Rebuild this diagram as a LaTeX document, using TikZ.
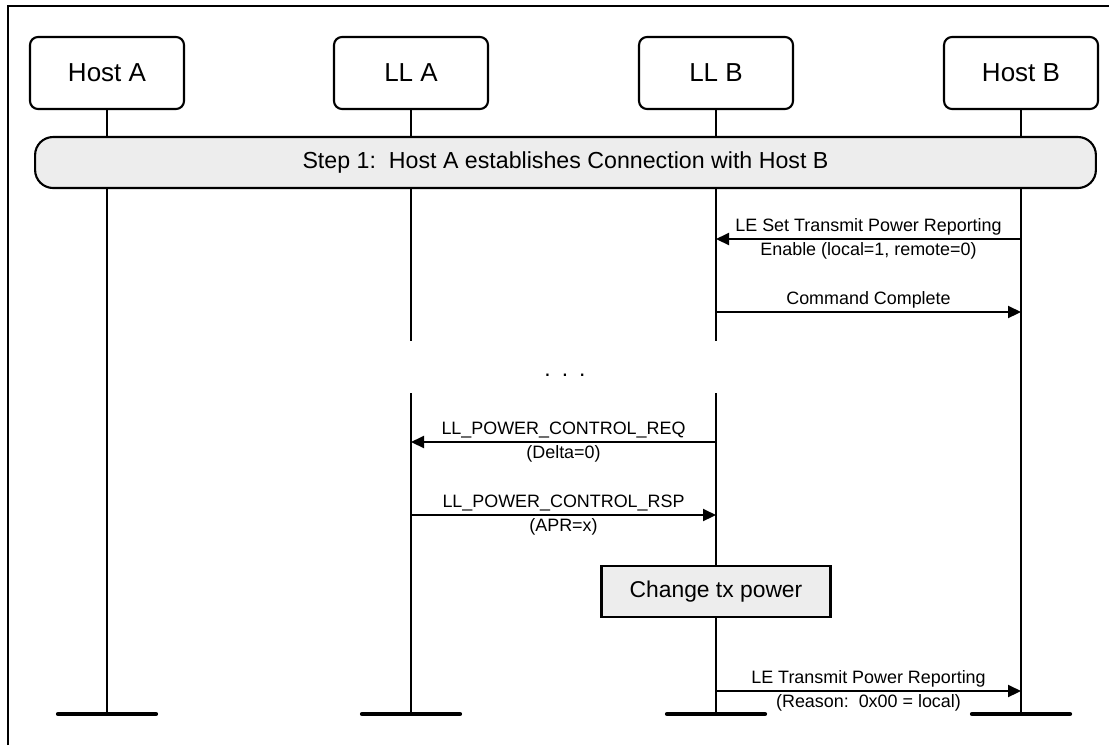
\documentclass[tikz,border=0pt]{standalone}
\usepackage{fontspec}
\setmainfont{Liberation Sans}
\usetikzlibrary{arrows.meta}

\begin{document}
\begin{tikzpicture}[
        x=0.02cm, y=-0.02cm,
        line width=1.2pt,
        font=\fontsize{10.2}{12}\selectfont,
        >={Triangle[length=2.6mm, width=2.4mm]},
        actor/.style={rectangle, draw, rounded corners=1.6mm, minimum width=3.08cm,
                      minimum height=1.44cm, font=\fontsize{14.8}{17}\selectfont},
        stepbar/.style={rectangle, draw, rounded corners=3.6mm, fill=black!7,
                      minimum width=21.22cm, minimum height=1.02cm,
                      font=\fontsize{13.2}{15}\selectfont},
        action/.style={rectangle, draw, fill=black!7, minimum width=4.58cm,
                      minimum height=1.02cm, font=\fontsize{13}{15}\selectfont},
        msg/.style={->},
        lbl/.style={inner sep=1.5pt},
        endbar/.style={line width=2.4pt, line cap=round},
    ]
        \useasboundingbox (0,0) rectangle (1109,745);
        \draw (8,745) |- (1109,6);
        \def\hax{107} \def\lax{411} \def\lbx{716} \def\hbx{1021}
        \def\bot{714}
        \foreach \x/\id/\name in {\hax/hosta/{Host A}, \lax/lla/{LL A},
                                  \lbx/llb/{LL B}, \hbx/hostb/{Host B}} {
            \node[actor] (\id) at (\x,73) {\name};
            \coordinate (\id-end) at (\x,\bot);
            \draw[endbar] ([xshift=-0.98cm]\id-end) -- ([xshift=0.98cm]\id-end);
        }
        % lifelines, the two link layers broken at the dots
        \coordinate (lla-cut) at (\lax,341); \coordinate (lla-go) at (\lax,393);
        \coordinate (llb-cut) at (\lbx,341); \coordinate (llb-go) at (\lbx,393);
        \draw (hosta) -- (hosta-end);
        \draw (hostb) -- (hostb-end);
        \draw (lla) -- (lla-cut) (lla-go) -- (lla-end);
        \draw (llb) -- (llb-cut) (llb-go) -- (llb-end);

        \node[stepbar] (step1) at (565.5,162.5) {Step 1:\ \ Host A establishes Connection with Host B};
        \node[font=\fontsize{13}{15}\selectfont, anchor=base] (dots) at (565,376)
            {.\hskip2.2mm.\hskip2.2mm.};
        \node[action] (txpow) at (\lbx,591.5) {Change tx power};

        \draw[msg] (hostb |- 0,239) -- node[above, lbl]{LE Set Transmit Power Reporting}
            node[below, lbl]{Enable (local=1, remote=0)} (llb |- 0,239);
        \draw[msg] (llb |- 0,312) -- node[above, lbl]{Command Complete} (hostb |- 0,312);
        \draw[msg] (llb |- 0,442) -- node[above, lbl]{LL\_POWER\_CONTROL\_REQ}
            node[below, lbl]{(Delta=0)} (lla |- 0,442);
        \draw[msg] (lla |- 0,515) -- node[above, lbl]{LL\_POWER\_CONTROL\_RSP}
            node[below, lbl]{(APR=x)} (llb |- 0,515);
        \draw[msg] (llb |- 0,691) -- node[above, lbl]{LE Transmit Power Reporting}
            node[below, lbl]{(Reason:\ \ 0x00 = local)} (hostb |- 0,691);
    \end{tikzpicture}
\end{document}
